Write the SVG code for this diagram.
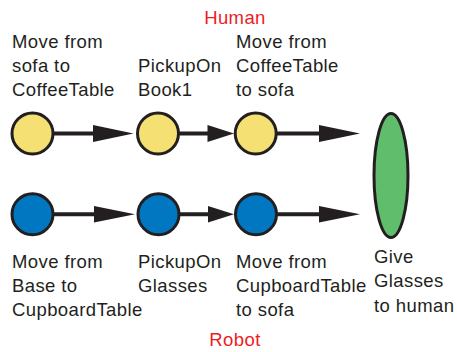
<svg xmlns="http://www.w3.org/2000/svg" width="457" height="352" viewBox="0 0 457 352">
<defs>
<style>
text{font-family:"Liberation Sans",Arial,sans-serif;font-size:18.5px;letter-spacing:0.4px;fill:#231f20}
.t{fill:#ed1c24;text-anchor:middle}
.n{stroke:#231f20;stroke-width:3}
.y{fill:#f5e173}
.b{fill:#0077c0}
.g{fill:#5fbd6b}
.c{stroke:#231f20;stroke-width:4;fill:none}
.h{fill:#231f20}
</style>
</defs>
<rect width="457" height="352" fill="#ffffff"/>
<text class="t" x="235" y="24">Human</text>
<text class="t" x="235" y="346">Robot</text>
<g id="connectors">
<line class="c" x1="53" y1="133.5" x2="100" y2="133.5"/>
<polygon class="h" points="93,125 133.5,133.5 93,142"/>
<line class="c" x1="178.5" y1="133.5" x2="212" y2="133.5"/>
<polygon class="h" points="207.5,125 234,133.5 207.5,142"/>
<line class="c" x1="276" y1="133.5" x2="325" y2="133.5"/>
<polygon class="h" points="319,125 360,133.5 319,142"/>
<line class="c" x1="53" y1="214.3" x2="100" y2="214.3"/>
<polygon class="h" points="94,206 135,214.3 94,222.5"/>
<line class="c" x1="179" y1="214.3" x2="212" y2="214.3"/>
<polygon class="h" points="208,206 234,214.3 208,222.5"/>
<line class="c" x1="276.5" y1="214.3" x2="325" y2="214.3"/>
<polygon class="h" points="319,206 360,214.3 319,222.5"/>
</g>
<g id="h1"><circle class="n y" cx="32.5" cy="133.5" r="20.5"/><text x="12" y="48">Move from</text><text x="12" y="72">sofa to</text><text x="12" y="96">CoffeeTable</text></g>
<g id="h2"><circle class="n y" cx="158" cy="133.5" r="20.5"/><text x="138" y="72">PickupOn</text><text x="138" y="96">Book1</text></g>
<g id="h3"><circle class="n y" cx="255.7" cy="133.5" r="20.5"/><text x="236" y="48">Move from</text><text x="236" y="72">CoffeeTable</text><text x="236" y="96">to sofa</text></g>
<g id="r1"><circle class="n b" cx="32.5" cy="214.3" r="20.5"/><text x="12" y="267.5">Move from</text><text x="12" y="291.7">Base to</text><text x="12" y="316">CupboardTable</text></g>
<g id="r2"><circle class="n b" cx="158.5" cy="214.3" r="20.5"/><text x="138" y="267.5">PickupOn</text><text x="138" y="291.7">Glasses</text></g>
<g id="r3"><circle class="n b" cx="256" cy="214.3" r="20.5"/><text x="236" y="267.5">Move from</text><text x="236" y="291.7">CupboardTable</text><text x="236" y="316">to sofa</text></g>
<g id="goal"><ellipse class="n g" cx="391" cy="175.5" rx="17" ry="62"/><text x="374" y="262.7">Give</text><text x="374" y="286.7">Glasses</text><text x="374" y="311.7">to human</text></g>
</svg>
